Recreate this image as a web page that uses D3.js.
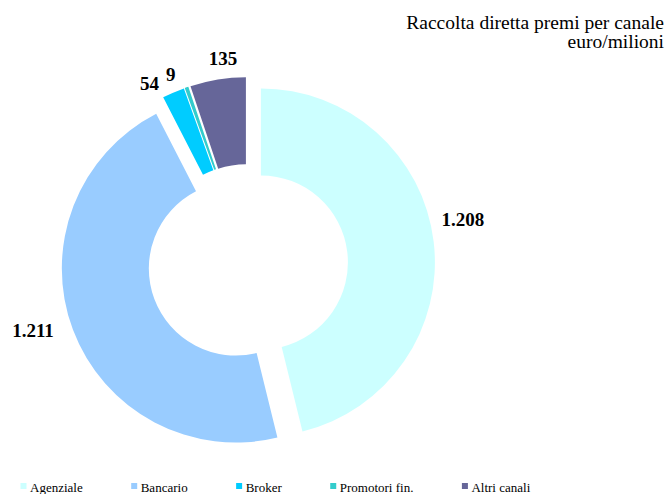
<!DOCTYPE html>
<html>
<head>
<meta charset="utf-8">
<script src="https://cdn.jsdelivr.net/npm/d3@7"></script>
<style>
  html, body { margin: 0; padding: 0; background: #fff; }
  svg { display: block; }
</style>
</head>
<body>
<svg id="chart" width="666" height="494"></svg>
<script>
// ---- data ----
const categories = ["Agenziale", "Bancario", "Broker", "Promotori fin.", "Altri canali"];
const values = [1208, 1211, 54, 9, 135];
const valueLabels = ["1.208", "1.211", "54", "9", "135"];
const colors = ["#CCFFFF", "#99CCFF", "#00CCFF", "#33CCCC", "#666699"];
const titleLines = ["Raccolta diretta premi per canale", "euro/milioni"];

// ---- layout ----
const W = 666, H = 494;
const cx = 248, cy = 264;
const outerR = 174, innerR = 87, explode = 13;
const labelGap = 10;
// manual adjustments mimicking the original label placement
const labelNudge = [[-2, -20], [-11, -5], [-16, 6], [-11, 3], [9, -5]];

const svg = d3.select("#chart");
const font = "'Liberation Serif', 'Times New Roman', serif";

const data = categories.map((c, i) => ({ cat: c, value: values[i], label: valueLabels[i], color: colors[i], i }));

const pie = d3.pie().value(d => d.value).sort(null).startAngle(0).endAngle(2 * Math.PI);
const arcs = pie(data);
const arc = d3.arc().innerRadius(innerR).outerRadius(outerR);

const g = svg.append("g").attr("transform", `translate(${cx},${cy})`);

arcs.forEach(a => {
  const mid = (a.startAngle + a.endAngle) / 2;
  const ux = Math.sin(mid), uy = -Math.cos(mid);
  g.append("path")
    .attr("d", arc(a))
    .attr("fill", a.data.color)
    .attr("transform", `translate(${ux * explode},${uy * explode})`);
});

// labels
arcs.forEach(a => {
  const mid = (a.startAngle + a.endAngle) / 2;
  const ux = Math.sin(mid), uy = -Math.cos(mid);
  const t = g.append("text")
    .attr("font-family", font)
    .attr("font-size", 19)
    .attr("font-weight", "bold")
    .attr("text-anchor", "middle")
    .attr("fill", "#000")
    .text(a.data.label);
  const w = t.node().getComputedTextLength();
  const h = 13;
  const r = outerR + explode + labelGap;
  const px = r * ux + ux * w / 2 + labelNudge[a.data.i][0];
  const py = r * uy + uy * h / 2 + labelNudge[a.data.i][1];
  t.attr("x", px).attr("y", py + h / 2);
});

// title
svg.append("text")
  .attr("x", 664).attr("y", 29)
  .attr("text-anchor", "end")
  .attr("font-family", font).attr("font-size", 19.5)
  .attr("fill", "#000")
  .text(titleLines[0]);
svg.append("text")
  .attr("x", 664).attr("y", 48)
  .attr("text-anchor", "end")
  .attr("font-family", font).attr("font-size", 19.5)
  .attr("fill", "#000")
  .text(titleLines[1]);

// legend
let lx = 20.5;
const ly = 492;
data.forEach(d => {
  svg.append("rect")
    .attr("x", lx).attr("y", ly - 9)
    .attr("width", 6).attr("height", 6)
    .attr("fill", d.color);
  const t = svg.append("text")
    .attr("x", lx + 9.5).attr("y", ly)
    .attr("font-family", font).attr("font-size", 13)
    .attr("fill", "#000")
    .text(d.cat);
  const tw = t.node().getComputedTextLength();
  lx += 9.5 + tw + 48.5;
});
</script>
</body>
</html>
